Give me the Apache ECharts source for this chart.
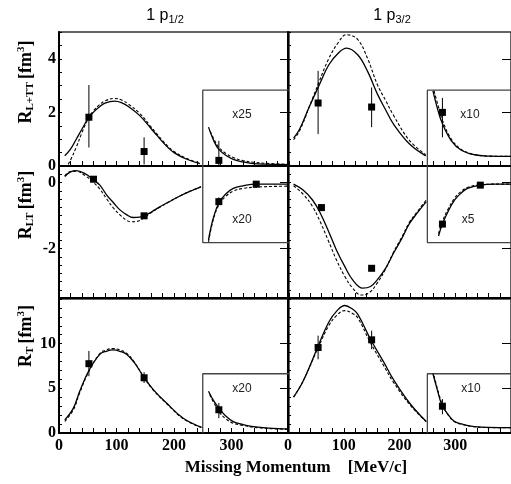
<!DOCTYPE html>
<html>
<head>
<meta charset="utf-8">
<title>1p response functions</title>
<style>
body{margin:0;padding:0;background:#fff;}
#main{width:511px;height:484px;}
</style>
</head>
<body>
<div id="main"></div>
<script src="https://cdn.jsdelivr.net/npm/echarts@6/dist/echarts.min.js"></script>
<script>
// x axis
var xLabels=[0,100,200,300];

// R_L+TT, 1p1/2
var lttHalfSolid=[[10,0.38],[20,0.63],[30,1.0],[40,1.38],[52,1.82],[60,2.01],[70,2.2],[80,2.35],[97,2.42],[110,2.35],[120,2.23],[140,1.89],[160,1.4],[170,1.15],[180,0.9],[190,0.68],[200,0.5],[220,0.27],[245,0.09]];
var lttHalfDashed=[[16,0.06],[20,0.22],[30,0.7],[40,1.25],[52,1.82],[60,2.06],[70,2.28],[80,2.43],[97,2.52],[110,2.45],[120,2.32],[140,1.97],[160,1.46],[170,1.2],[180,0.95],[190,0.72],[200,0.54],[220,0.3],[245,0.1]];
var lttHalfInSolid=[[260,1.45],[270,0.9],[278,0.62],[290,0.4],[303,0.25],[320,0.15],[338,0.09],[360,0.07],[400,0.05]];
var lttHalfInDashed=[[263,1.3],[270,0.98],[278,0.7],[290,0.47],[303,0.32],[320,0.2],[338,0.14],[360,0.1],[400,0.06]];
var lttHalfPts=[[52,1.82,0.69,3.02],[148,0.54,0.06,1.07],[278,0.21,0,0.94]];
var lttHalfBox=[[250,0],[250,2.83],[400,2.83]];

// R_L+TT, 1p3/2
var lttThreeSolid=[[10,1.04],[21,1.38],[38,2.2],[56,3.02],[73,3.77],[90,4.21],[105,4.4],[125,4.15],[143,3.52],[160,2.7],[175,2.1],[189,1.57],[218,0.82],[247,0.38]];
var lttThreeDashed=[[10,0.98],[21,1.32],[38,2.2],[55,3.1],[73,4.0],[90,4.6],[105,4.9],[125,4.72],[143,4.0],[160,3.05],[175,2.45],[189,1.9],[218,0.95],[247,0.42]];
var lttThreeInSolid=[[260,2.8],[268,2.15],[276,1.63],[293,0.94],[311,0.59],[334,0.42],[360,0.37],[400,0.36]];
var lttThreeInDashed=[[262,2.8],[270,2.2],[278,1.65],[293,1.0],[311,0.62],[334,0.43],[360,0.37],[400,0.36]];
var lttThreePts=[[54,2.35,1.19,3.55],[150,2.2,1.45,2.93],[277,2.0,1.07,2.54]];
var lttThreeBox=[[250,0],[250,2.83],[400,2.83]];

// R_LT, 1p1/2
var ltHalfSolid=[[10,0.18],[20,0.32],[30,0.36],[46,0.26],[60,0.08],[71,-0.08],[83,-0.38],[95,-0.62],[106,-0.83],[118,-0.98],[129,-1.06],[140,-1.05],[148,-1.01],[160,-0.9],[176,-0.73],[190,-0.6],[210,-0.41],[230,-0.25],[247,-0.13]];
var ltHalfDashed=[[10,0.2],[20,0.33],[30,0.34],[46,0.2],[60,0.0],[71,-0.2],[83,-0.5],[95,-0.78],[106,-0.98],[118,-1.15],[125,-1.19],[135,-1.18],[148,-1.07],[160,-0.92],[176,-0.74],[190,-0.6],[210,-0.41],[230,-0.25],[247,-0.13]];
var ltHalfInSolid=[[260,-1.74],[268,-1.1],[278,-0.62],[290,-0.35],[303,-0.18],[320,-0.1],[343,-0.05],[370,-0.05],[400,-0.05]];
var ltHalfInDashed=[[260,-1.8],[268,-1.15],[278,-0.68],[290,-0.42],[303,-0.26],[320,-0.18],[343,-0.14],[370,-0.12],[400,-0.11]];
var ltHalfPts=[[60,0.1,0.02,0.18],[148,-1.01,-1.06,-0.96],[278,-0.58,-0.68,-0.45],[343,-0.05,-0.1,0]];
var ltHalfBox=[[250,0.5],[250,-1.82],[400,-1.82]];

// R_LT, 1p3/2
var ltThreeSolid=[[10,-0.05],[27,-0.23],[44,-0.53],[58,-0.93],[73,-1.49],[87,-2.05],[102,-2.55],[116,-2.95],[134,-3.2],[148,-3.15],[160,-2.95],[175,-2.6],[189,-2.15],[204,-1.7],[218,-1.24],[233,-0.9],[248,-0.58]];
var ltThreeDashed=[[10,-0.1],[27,-0.35],[44,-0.73],[58,-1.2],[73,-1.79],[87,-2.35],[102,-2.85],[116,-3.2],[131,-3.41],[145,-3.35],[160,-3.05],[175,-2.62],[189,-2.12],[204,-1.66],[218,-1.2],[233,-0.86],[248,-0.53]];
var ltThreeInSolid=[[270,-1.62],[277,-1.26],[288,-0.85],[299,-0.53],[310,-0.33],[322,-0.18],[345,-0.08],[370,-0.05],[400,-0.05]];
var ltThreeInDashed=[[270,-1.55],[277,-1.18],[288,-0.78],[299,-0.47],[310,-0.28],[322,-0.15],[345,-0.07],[370,-0.05],[400,-0.05]];
var ltThreePts=[[60,-0.76,-0.86,-0.66],[150,-2.6,-2.65,-2.55],[277,-1.26,-1.3,-1.2],[345,-0.08,-0.1,-0.05]];
var ltThreeBox=[[250,0.5],[250,-1.82],[400,-1.82]];

// R_T, 1p1/2
var tHalfSolid=[[10,1.47],[25,2.79],[36,4.67],[52,7.0],[71,8.8],[82,9.15],[94,9.3],[106,9.15],[118,8.8],[132,7.8],[147,6.3],[164,4.86],[187,3.35],[216,1.66],[248,0.64]];
var tHalfDashed=[[10,1.3],[25,2.6],[36,4.5],[52,6.9],[71,8.9],[82,9.3],[94,9.45],[106,9.3],[118,8.9],[132,7.85],[147,6.3],[164,4.8],[187,3.3],[216,1.6],[248,0.6]];
var tHalfInSolid=[[260,4.67],[268,3.7],[278,2.79],[290,1.9],[303,1.28],[320,0.95],[338,0.72],[365,0.55],[400,0.45]];
var tHalfInDashed=[[262,4.3],[270,3.3],[278,2.4],[290,1.6],[303,1.1],[320,0.85],[338,0.65],[365,0.5],[400,0.42]];
var tHalfPts=[[52,7.76,6.36,9.19],[148,6.18,5.6,6.8],[278,2.6,1.66,3.35]];
var tHalfBox=[[250,0],[250,6.63],[400,6.63]];

// R_T, 1p3/2
var tThreeSolid=[[10,4.03],[27,5.8],[53,9.57],[73,12.4],[88,13.7],[102,14.27],[115,13.9],[125,13.3],[148,10.5],[172,7.9],[189,6.0],[218,3.36],[248,1.28]];
var tThreeDashed=[[10,4.0],[27,5.8],[53,9.4],[73,12.0],[88,13.2],[102,13.7],[115,13.4],[125,12.9],[148,10.1],[172,7.5],[189,5.7],[218,3.2],[248,1.25]];
var tThreeInSolid=[[260,6.63],[268,4.8],[276,3.16],[288,2.0],[299,1.28],[315,0.95],[334,0.72],[360,0.62],[400,0.6]];
var tThreeInDashed=[[262,6.4],[270,4.5],[278,3.0],[288,1.95],[299,1.25],[315,0.92],[334,0.7],[360,0.6],[400,0.58]];
var tThreePts=[[54,9.57,8.25,10.9],[150,10.43,9.38,11.45],[277,3.0,2.1,3.8]];
var tThreeBox=[[250,0],[250,6.63],[400,6.63]];

// y axes per row
var rowYMin=[0,-3.5,0];
var rowYMax=[5,0.5,15];
var rowMinorStep=[0.5,0.25,1];
var rowMajorTicks=[[0,2,4],[0,-2],[0,5,10]];
var rowYLabels=[[0,2,4],[0,-2],[0,5,10]];
var insetLabels=['x25','x10','x20','x5','x20','x10'];

var panels=[
	{solid:lttHalfSolid,dashed:lttHalfDashed,inSolid:lttHalfInSolid,inDashed:lttHalfInDashed,pts:lttHalfPts,box:lttHalfBox},
	{solid:lttThreeSolid,dashed:lttThreeDashed,inSolid:lttThreeInSolid,inDashed:lttThreeInDashed,pts:lttThreePts,box:lttThreeBox},
	{solid:ltHalfSolid,dashed:ltHalfDashed,inSolid:ltHalfInSolid,inDashed:ltHalfInDashed,pts:ltHalfPts,box:ltHalfBox},
	{solid:ltThreeSolid,dashed:ltThreeDashed,inSolid:ltThreeInSolid,inDashed:ltThreeInDashed,pts:ltThreePts,box:ltThreeBox},
	{solid:tHalfSolid,dashed:tHalfDashed,inSolid:tHalfInSolid,inDashed:tHalfInDashed,pts:tHalfPts,box:tHalfBox},
	{solid:tThreeSolid,dashed:tThreeDashed,inSolid:tThreeInSolid,inDashed:tThreeInDashed,pts:tThreePts,box:tThreeBox}
];

var rowTop=[32,166,299];
var rowHeight=[134,132,134];
var colLeft=[59,288];
var serif='"Liberation Serif","DejaVu Serif",serif';

var grids=[],xAxes=[],yAxes=[],series=[];
for(var i=0;i<panels.length;i++){
	var row=Math.floor(i/2),col=i%2,p=panels[i];
	grids.push({left:colLeft[col],top:rowTop[row],width:230,height:rowHeight[row],show:true,borderColor:'#333',borderWidth:1.5,backgroundColor:'transparent'});
	xAxes.push({
		gridIndex:i,type:'value',min:0,max:400,interval:20,
		axisLine:{onZero:false,lineStyle:{color:'#000',width:2}},
		axisTick:{inside:true,length:5,lineStyle:{color:'#000',width:1}},
		axisLabel:{show:row==2,margin:5,color:'#000',fontFamily:serif,fontWeight:'bold',fontSize:16,showMaxLabel:false,
			formatter:function(v){return xLabels.indexOf(v)>=0?String(v):'';}},
		splitLine:{show:false}
	});
	(function(labels){
		yAxes.push({
			gridIndex:i,type:'value',min:rowYMin[row],max:rowYMax[row],interval:rowMinorStep[row],
			axisLine:{onZero:false,lineStyle:{color:'#000',width:2}},
			axisTick:{inside:true,length:3,lineStyle:{color:'#000',width:1}},
			axisLabel:{show:col==0,margin:3,color:'#000',fontFamily:serif,fontWeight:'bold',fontSize:16,
				formatter:function(v){
					for(var k=0;k<labels.length;k++){if(Math.abs(v-labels[k])<1e-6)return String(labels[k]);}
					return '';
				}},
			splitLine:{show:false}
		});
	})(rowYLabels[row]);
	yAxes.push({
		gridIndex:i,type:'value',min:rowYMin[row],max:rowYMax[row],
		axisLine:{show:false,onZero:false},
		axisTick:{inside:true,length:9,customValues:rowMajorTicks[row],lineStyle:{color:'#000',width:1}},
		axisLabel:{show:false},
		splitLine:{show:false}
	});
	var yi=2*i;
	var solidStyle={color:'#000',width:1.3};
	var dashStyle={color:'#000',width:1.1,type:[3,2]};
	series.push({type:'line',xAxisIndex:i,yAxisIndex:yi,data:p.box,symbol:'none',lineStyle:{color:'#444',width:1.3},animation:false,z:1});
	series.push({type:'line',xAxisIndex:i,yAxisIndex:yi,data:p.solid,symbol:'none',smooth:0.4,lineStyle:solidStyle,animation:false});
	series.push({type:'line',xAxisIndex:i,yAxisIndex:yi,data:p.dashed,symbol:'none',smooth:0.4,lineStyle:dashStyle,animation:false});
	series.push({type:'line',xAxisIndex:i,yAxisIndex:yi,data:p.inSolid,symbol:'none',smooth:0.4,lineStyle:solidStyle,animation:false});
	series.push({type:'line',xAxisIndex:i,yAxisIndex:yi,data:p.inDashed,symbol:'none',smooth:0.4,lineStyle:dashStyle,animation:false});
	series.push({
		type:'custom',xAxisIndex:i,yAxisIndex:yi,animation:false,
		data:p.pts.map(function(d){return [d[0],d[2],d[3]];}),
		renderItem:function(params,api){
			var a=api.coord([api.value(0),api.value(1)]);
			var b=api.coord([api.value(0),api.value(2)]);
			return {type:'line',shape:{x1:a[0],y1:a[1],x2:b[0],y2:b[1]},style:{stroke:'#000',lineWidth:1}};
		}
	});
	series.push({type:'scatter',xAxisIndex:i,yAxisIndex:yi,symbol:'rect',symbolSize:7,itemStyle:{color:'#000',opacity:1},animation:false,z:5,
		data:p.pts.map(function(d){return [d[0],d[1]];})});
}

var sansThin='"Liberation Sans","DejaVu Sans",sans-serif';
var nameRich={
	r:{fontFamily:serif,fontWeight:'bold',fontSize:18,color:'#000'},
	s:{fontFamily:serif,fontWeight:'bold',fontSize:11,color:'#000',padding:[9,0,0,0]},
	p:{fontFamily:serif,fontWeight:'bold',fontSize:11,color:'#000',padding:[0,0,10,0]}
};
var titleRich={
	a:{fontFamily:sansThin,fontSize:16,color:'#000'},
	s:{fontFamily:sansThin,fontSize:11,color:'#000',padding:[8,0,0,0]}
};
function txt(x,y,t,rich,rot){
	return {type:'text',x:x,y:y,rotation:rot||0,style:{text:t,rich:rich,align:'center',verticalAlign:'middle'}};
}
var graphics=[
	txt(165,16,'{a|1 p}{s|1/2}',titleRich),
	txt(392,16,'{a|1 p}{s|3/2}',titleRich),
	txt(26,82,'{r|R}{s|L+TT} {r|[fm}{p|3}{r|]}',nameRich,Math.PI/2),
	txt(26,205,'{r|R}{s|LT} {r|[fm}{p|3}{r|]}',nameRich,Math.PI/2),
	txt(26,336,'{r|R}{s|T} {r|[fm}{p|3}{r|]}',nameRich,Math.PI/2),
	{type:'text',x:296,y:468,style:{text:'Missing Momentum    [MeV/c]',fontFamily:serif,fontWeight:'bold',fontSize:17,fill:'#000',align:'center',verticalAlign:'middle'}}
];
var insetPos=[[242,115],[470,115],[242,220],[468,220],[242,389],[471,389]];
for(var j=0;j<insetLabels.length;j++){
	graphics.push({type:'text',x:insetPos[j][0],y:insetPos[j][1],style:{text:insetLabels[j],fontFamily:sansThin,fontSize:12,fill:'#222',align:'center',verticalAlign:'middle'}});
}

var myChart=echarts.init(document.getElementById('main'));
myChart.setOption({
	animation:false,
	grid:grids,
	xAxis:xAxes,
	yAxis:yAxes,
	series:series,
	graphic:graphics
});
</script>
</body>
</html>
